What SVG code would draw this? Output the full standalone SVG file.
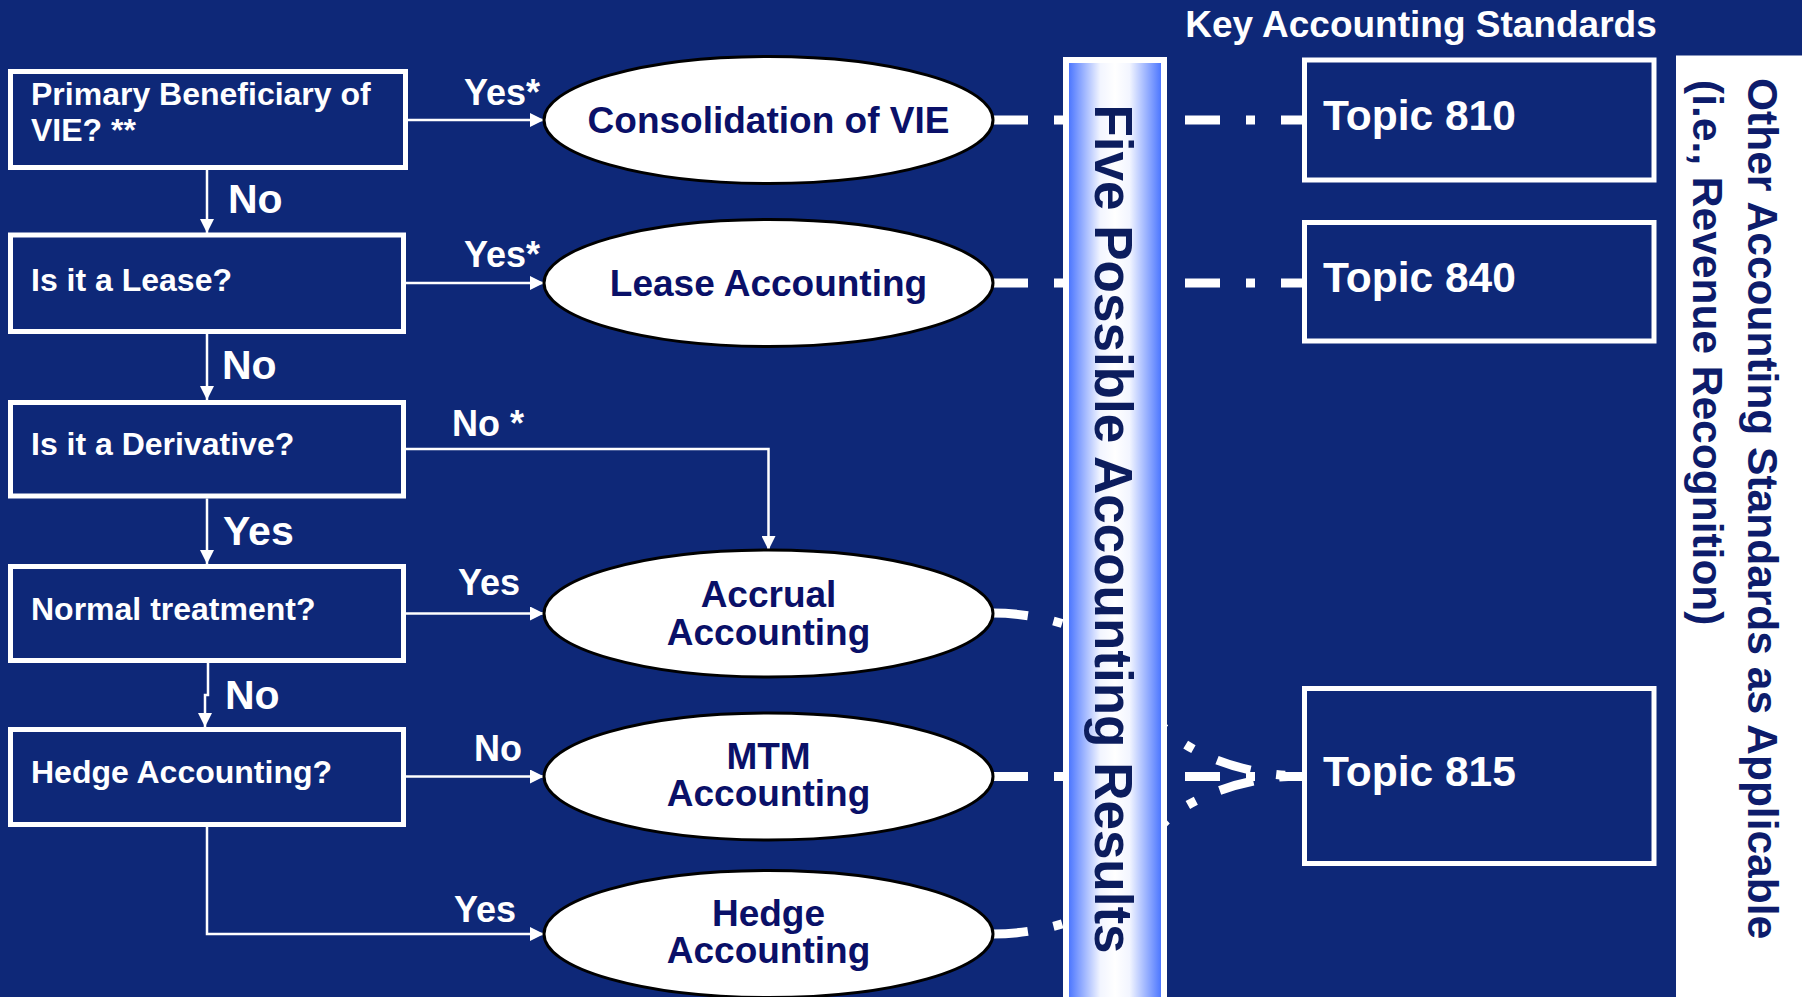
<svg xmlns="http://www.w3.org/2000/svg" width="1802" height="997" viewBox="0 0 1802 997">
<defs>
<style>
.t{font-family:"Liberation Sans",Arial,sans-serif;font-weight:bold}
.box{fill:#0E2878;stroke:#fff;stroke-width:5}
.btxt{fill:#fff;font-size:32px}
.lbl{fill:#fff;font-size:36px}
.big{fill:#fff;font-size:41px}
.ell{fill:#fff;stroke:#000;stroke-width:3}
.etxt{fill:#0A1068;font-size:37px;text-anchor:middle}
.arrow{fill:none;stroke:#fff;stroke-width:2.5;marker-end:url(#arr)}
.dash{fill:none;stroke:#fff;stroke-width:9;stroke-dasharray:35 26 9 26}
.ttxt{fill:#fff;font-size:42.5px}
</style>
<linearGradient id="colg" x1="0" y1="0" x2="1" y2="0">
<stop offset="0" stop-color="#3D6BFF"/>
<stop offset="0.12" stop-color="#7C9BFF"/>
<stop offset="0.35" stop-color="#F2F5FF"/>
<stop offset="0.5" stop-color="#FFFFFF"/>
<stop offset="0.65" stop-color="#F2F5FF"/>
<stop offset="0.88" stop-color="#7C9BFF"/>
<stop offset="1" stop-color="#3D6BFF"/>
</linearGradient>
<marker id="arr" viewBox="0 0 14 14" refX="14" refY="7" markerWidth="14" markerHeight="14" markerUnits="userSpaceOnUse" orient="auto">
<path d="M0,0 L14,7 L0,14 z" fill="#fff"/>
</marker>
</defs>
<rect x="0" y="0" width="1802" height="997" fill="#0E2878"/>

<g id="connectors">
<path class="arrow" d="M207,170 V233"/>
<path class="arrow" d="M207,334 V400"/>
<path class="arrow" d="M207,498.5 V564"/>
<path class="arrow" d="M208,663 V695 H205 V727"/>
<path class="arrow" d="M207,827 V934 H544"/>
<path class="arrow" d="M408,120 H544"/>
<path class="arrow" d="M406,283 H544"/>
<path class="arrow" d="M406,449 H768.5 V550"/>
<path class="arrow" d="M406,613.5 H544"/>
<path class="arrow" d="M406,776.5 H544"/>
<path class="dash" d="M993,120 H1302"/>
<path class="dash" d="M993,283 H1302"/>
<path class="dash" d="M993,776.5 H1302"/>
<path class="dash" d="M993,613 C1070,613 1147.5,654 1147.5,694.5 C1147.5,735 1224.75,776 1302,776"/>
<path class="dash" d="M993,934 C1070,934 1147.5,894.5 1147.5,855 C1147.5,815.5 1224.75,776 1302,776"/>
<text class="t big" x="228" y="213">No</text>
<text class="t big" x="222" y="379">No</text>
<text class="t big" x="223" y="545">Yes</text>
<text class="t big" x="225" y="709">No</text>
<text class="t lbl" x="464" y="105">Yes*</text>
<text class="t lbl" x="464" y="267">Yes*</text>
<text class="t lbl" x="452" y="436">No *</text>
<text class="t lbl" x="458" y="594.5">Yes</text>
<text class="t lbl" x="474" y="761">No</text>
<text class="t lbl" x="454" y="922">Yes</text>
</g>

<g id="q1"><rect class="box" x="10.5" y="71.5" width="395" height="96"/>
<text class="t btxt" x="31" y="105">Primary Beneficiary of</text>
<text class="t btxt" x="31" y="141">VIE? **</text></g>
<g id="q2"><rect class="box" x="10.5" y="235" width="393" height="96.5"/>
<text class="t btxt" x="31" y="290.5">Is it a Lease?</text></g>
<g id="q3"><rect class="box" x="10.5" y="402.5" width="393" height="93.5"/>
<text class="t btxt" x="31" y="455">Is it a Derivative?</text></g>
<g id="q4"><rect class="box" x="10.5" y="566.5" width="393" height="94"/>
<text class="t btxt" x="31" y="620">Normal treatment?</text></g>
<g id="q5"><rect class="box" x="10.5" y="729.5" width="393" height="95"/>
<text class="t btxt" x="31" y="783">Hedge Accounting?</text></g>

<g id="r1"><ellipse class="ell" cx="768.5" cy="120" rx="224.5" ry="63.5"/>
<text class="t etxt" x="768.5" y="133">Consolidation of VIE</text></g>
<g id="r2"><ellipse class="ell" cx="768.5" cy="283" rx="224.5" ry="63.5"/>
<text class="t etxt" x="768.5" y="296">Lease Accounting</text></g>
<g id="r3"><ellipse class="ell" cx="768.5" cy="613.5" rx="224.5" ry="63.5"/>
<text class="t etxt" x="768.5" y="607">Accrual</text>
<text class="t etxt" x="768.5" y="644.5">Accounting</text></g>
<g id="r4"><ellipse class="ell" cx="768.5" cy="776.5" rx="224.5" ry="63.5"/>
<text class="t etxt" x="768.5" y="768.5">MTM</text>
<text class="t etxt" x="768.5" y="805.5">Accounting</text></g>
<g id="r5"><ellipse class="ell" cx="768.5" cy="934" rx="224.5" ry="63.5"/>
<text class="t etxt" x="768.5" y="925.5">Hedge</text>
<text class="t etxt" x="768.5" y="963">Accounting</text></g>

<g id="results-column"><rect x="1066" y="60" width="98" height="945" fill="url(#colg)" stroke="#fff" stroke-width="6"/>
<text class="t" transform="translate(1095,529) rotate(90)" text-anchor="middle" font-size="53" fill="#0C1D5E">Five Possible Accounting Results</text></g>

<g id="title"><text class="t" x="1421" y="37" text-anchor="middle" font-size="37" fill="#fff">Key Accounting Standards</text></g>

<g id="topic810"><rect class="box" x="1304.5" y="60" width="349.5" height="120"/>
<text class="t ttxt" x="1323" y="129.5">Topic 810</text></g>
<g id="topic840"><rect class="box" x="1304.5" y="222.5" width="349.5" height="118.5"/>
<text class="t ttxt" x="1323" y="291.7">Topic 840</text></g>
<g id="topic815"><rect class="box" x="1304.5" y="688.5" width="349.5" height="175"/>
<text class="t ttxt" x="1323" y="786">Topic 815</text></g>

<g id="other"><rect x="1676" y="55.5" width="130" height="945" fill="#fff"/>
<text class="t" transform="translate(1748,78) rotate(90)" font-size="42.5" fill="#0D1C6B">Other Accounting Standards as Applicable</text>
<text class="t" transform="translate(1693,80) rotate(90)" font-size="42.5" fill="#0D1C6B">(i.e., Revenue Recognition)</text></g>
</svg>
